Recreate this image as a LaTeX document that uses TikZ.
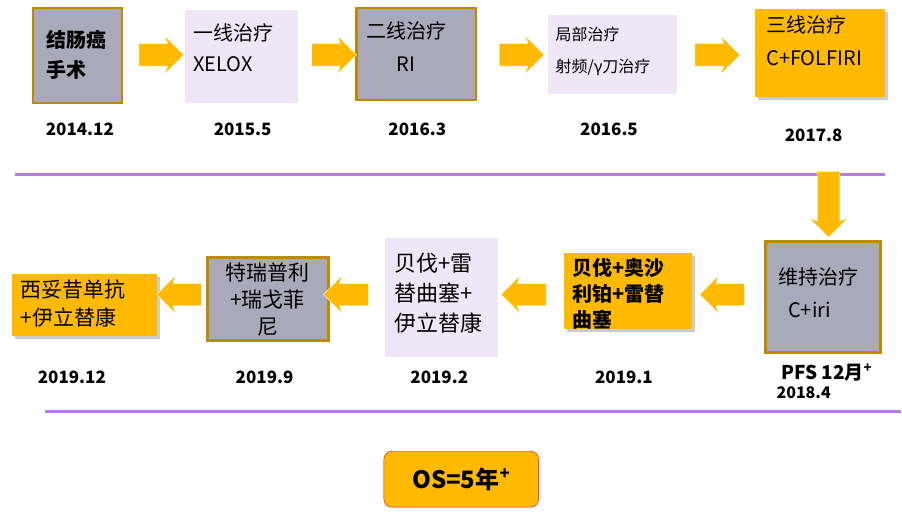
\documentclass[tikz,border=0pt]{standalone}
\usepackage{fontspec}
\setmainfont{Noto Sans CJK SC}
\usetikzlibrary{shapes.arrows}
\definecolor{boxgray}{HTML}{A9A9BA}
\definecolor{boxgold}{HTML}{C08A00}
\definecolor{boxlav}{HTML}{EFE6F7}
\definecolor{boxorange}{HTML}{FFBA00}
\definecolor{linepurple}{HTML}{B57EDC}
\begin{document}
\begin{tikzpicture}[x=1pt,y=-1pt]
\tikzstyle{graybox}=[draw=boxgold,line width=2.5pt,fill=boxgray,inner sep=0pt]
\tikzstyle{lavbox}=[fill=boxlav,inner sep=0pt]
\tikzstyle{orgbox}=[fill=boxorange,inner sep=0pt]
\tikzstyle{arr}=[single arrow,fill=boxorange,draw=white,minimum height=45pt,inner xsep=0pt,inner ysep=11pt,single arrow head extend=8pt,single arrow head indent=3pt]
\tikzstyle{date}=[font=\fontsize{17}{19}\selectfont\bfseries,align=center]
\tikzstyle{txt}=[font=\fontsize{20}{27}\selectfont,align=left]
\fill[white] (0,0) rectangle (902,515);
% top row
\draw[graybox] (33,8) rectangle (122,103);
\node[txt,font=\fontsize{20}{30}\selectfont\bfseries](s1) at (77,55) {结肠癌\\手术};
\fill[lavbox] (185,10) rectangle (298,103);
\node[txt,anchor=north west](s2) at (190,20) {一线治疗\\[4pt]XELOX};
\draw[graybox] (357,8) rectangle (477,100);
\node[txt,anchor=north west](s3) at (364,18) {二线治疗\\[6pt]\hspace*{30pt}RI};
\fill[lavbox] (549,15) rectangle (678,94);
\node[txt,anchor=north west,font=\fontsize{16}{32}\selectfont](s4) at (553,24) {局部治疗\\射频/γ刀治疗};
\fill[gray!40] (759,12) rectangle (889,100);
\fill[orgbox] (756,9) rectangle (886,97);
\node[txt,anchor=north west](s5) at (764,12) {三线治疗\\[6pt]C+FOLFIRI};
\node[arr](a1) at (156,55) {};
\node[arr](a2) at (329,55) {};
\node[arr](a3) at (517,55) {};
\node[arr](a4) at (713,55) {};
\node[date](d1) at (80,130) {2014.12};
\node[date](d2) at (243,130) {2015.5};
\node[date](d3) at (418,130) {2016.3};
\node[date](d4) at (610,130) {2016.5};
\node[date](d5) at (815,136) {2017.8};
\draw[linepurple,line width=3pt] (15,175) -- (886,175);
\node[arr,rotate=-90,minimum height=66pt](a5) at (830,199) {};
% bottom row
\draw[graybox] (767,242) rectangle (882,353);
\node[txt,anchor=north west](s6) at (776,265) {维持治疗\\[6pt]\hspace*{10pt}C+iri};
\fill[gray!40] (568,256) rectangle (696,333);
\fill[orgbox] (565,253) rectangle (693,330);
\node[txt,anchor=north west,font=\fontsize{20}{26}\selectfont\bfseries](s7) at (570,255) {贝伐+奥沙\\利铂+雷替\\曲塞};
\fill[lavbox] (386,238) rectangle (499,358);
\node[txt,anchor=north west,font=\fontsize{22}{30}\selectfont](s8) at (392,250) {贝伐+雷\\替曲塞+\\伊立替康};
\draw[graybox] (208,258) rectangle (329,341);
\node[txt,align=center,font=\fontsize{21}{27}\selectfont](s9) at (268,300) {特瑞普利\\+瑞戈菲\\尼};
\fill[gray!40] (15,277) rectangle (160,340);
\fill[orgbox] (12,274) rectangle (157,337);
\node[txt,anchor=north west,font=\fontsize{21}{28}\selectfont](s10) at (17,277) {西妥昔单抗\\+伊立替康};
\node[arr,rotate=180](a6) at (729,295) {};
\node[arr,rotate=180](a7) at (530,295) {};
\node[arr,rotate=180](a8) at (352,295) {};
\node[arr,rotate=180](a9) at (185,295) {};
\node[date](d6) at (72,378) {2019.12};
\node[date](d7) at (265,378) {2019.9};
\node[date](d8) at (440,378) {2019.2};
\node[date](d9) at (625,378) {2019.1};
\node[date,font=\fontsize{19}{21}\selectfont\bfseries](d10) at (828,373) {PFS 12月\textsuperscript{+}};
\node[date,font=\fontsize{16}{18}\selectfont\bfseries](d11) at (805,393) {2018.4};
\draw[linepurple,line width=3pt] (45,412) -- (902,412);
\node[draw=red,fill=boxorange,rounded corners=8pt,minimum width=155pt,minimum height=56pt,font=\fontsize{24}{26}\selectfont\bfseries](os) at (462,480) {OS=5年\textsuperscript{+}};
\end{tikzpicture}
\end{document}
